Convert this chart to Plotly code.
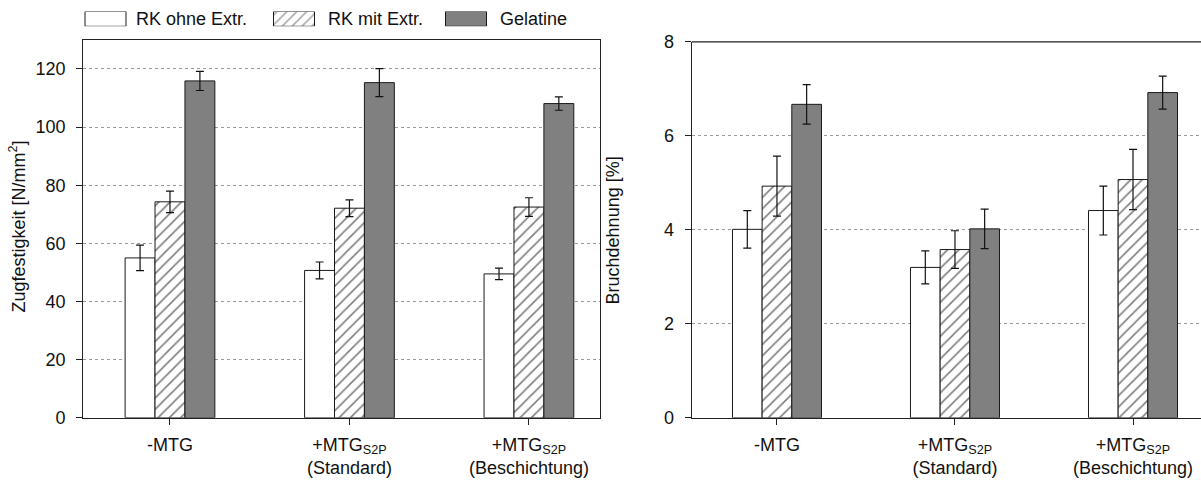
import plotly.graph_objects as go

# Probenvarianten (x-Kategorien)
groups = ["-MTG", "+MTG<sub>S2P</sub><br>(Standard)", "+MTG<sub>S2P</sub><br>(Beschichtung)"]
series_names = ["RK ohne Extr.", "RK mit Extr.", "Gelatine"]

# Zugfestigkeit [N/mm²], Mittelwert und Standardabweichung
tensile_rk_ohne = [55.0, 50.7, 49.5]
tensile_rk_ohne_err = [4.4, 2.9, 2.0]
tensile_rk_mit = [74.3, 72.1, 72.5]
tensile_rk_mit_err = [3.7, 2.9, 3.2]
tensile_gel = [115.9, 115.3, 108.1]
tensile_gel_err = [3.3, 4.8, 2.3]

# Bruchdehnung [%], Mittelwert und Standardabweichung
strain_rk_ohne = [4.01, 3.20, 4.41]
strain_rk_ohne_err = [0.40, 0.35, 0.52]
strain_rk_mit = [4.93, 3.58, 5.07]
strain_rk_mit_err = [0.64, 0.40, 0.64]
strain_gel = [6.67, 4.02, 6.92]
strain_gel_err = [0.42, 0.42, 0.35]

left_ticks = [0, 20, 40, 60, 80, 100, 120]
right_ticks = [0, 2, 4, 6, 8]

W, H = 1201, 481
FONT = dict(family="Liberation Sans, Arial, sans-serif", size=18, color="#111")


def px(x):
    return x / W


def py(y):
    return 1 - y / H


hatch = dict(shape="/", size=8, solidity=0.2, fgcolor="#000", bgcolor="white")
styles = [
    dict(color="white", pattern=None),
    dict(color="white", pattern=hatch),
    dict(color="#808080", pattern=None),
]

fig = go.Figure()

xs = [0, 1, 2]
panels = [
    ("x", "y", [tensile_rk_ohne, tensile_rk_mit, tensile_gel],
     [tensile_rk_ohne_err, tensile_rk_mit_err, tensile_gel_err]),
    ("x2", "y2", [strain_rk_ohne, strain_rk_mit, strain_gel],
     [strain_rk_ohne_err, strain_rk_mit_err, strain_gel_err]),
]
for xa, ya, vals, errs in panels:
    for i, (name, v, e) in enumerate(zip(series_names, vals, errs)):
        marker = dict(color=styles[i]["color"], line=dict(color="#1a1a1a", width=1))
        if styles[i]["pattern"] is not None:
            marker["pattern"] = styles[i]["pattern"]
        fig.add_trace(go.Bar(
            x=xs, y=v, name=name, xaxis=xa, yaxis=ya, marker=marker,
            error_y=dict(type="data", array=e, visible=True, color="#111", thickness=1.2, width=4),
            showlegend=False,
        ))

# Legend boxes drawn as bars on a hidden helper axis (pixel units)
legend_centers = [105.5, 294, 466]
legend_text_x = [134, 326, 498]
fig.add_trace(go.Bar(
    x=legend_centers, y=[1, 1, 1], width=[41, 41, 41], xaxis="x3", yaxis="y3",
    marker=dict(color=["white", "white", "#808080"], line=dict(color="#1a1a1a", width=1),
                pattern=dict(shape=["", "/", ""], size=7, solidity=0.22, fgcolor="#000", bgcolor="white")),
    showlegend=False, hoverinfo="skip",
))

axis_common = dict(showline=True, linecolor="#222", linewidth=1.3, ticks="outside", ticklen=6,
                   tickcolor="#222", tickfont=FONT, zeroline=False)
grid = dict(showgrid=True, gridcolor="#9a9a9a", griddash="3px,3px", gridwidth=1)

TOP_L, TOP_R, BOTTOM = 31.2, 33.2, 425.5

fig.update_layout(
    width=W, height=H,
    margin=dict(l=0, r=0, t=0, b=0),
    paper_bgcolor="white", plot_bgcolor="white",
    barmode="group", bargap=0.5, bargroupgap=0,
    font=FONT,
    xaxis=dict(domain=[px(83.3), px(600)], range=[-0.483, 2.396], tickvals=xs, ticktext=groups,
               mirror=True, anchor="y", showgrid=False, ticklabelstandoff=4, **axis_common),
    yaxis=dict(domain=[py(BOTTOM), py(TOP_L)], range=[0, 130], tickvals=left_ticks, mirror=True,
               anchor="x", ticklabelstandoff=7, **grid, **axis_common),
    xaxis2=dict(domain=[px(691.7), 1.0], range=[-0.479, 2.382], tickvals=xs, ticktext=groups,
                mirror=False, anchor="y2", showgrid=False, ticklabelstandoff=4, **axis_common),
    yaxis2=dict(domain=[py(BOTTOM), py(TOP_R)], range=[0, 8], tickvals=right_ticks,
                anchor="x2", ticklabelstandoff=7, **grid, **axis_common),
    xaxis3=dict(domain=[px(0), px(600)], range=[0, 600], visible=False, fixedrange=True),
    yaxis3=dict(domain=[py(17), py(1.5)], range=[0, 1], visible=False, fixedrange=True, anchor="x3"),
)

# Top border of the right panel
fig.add_shape(type="line", xref="x2 domain", yref="y2 domain", x0=0, x1=1, y0=1, y1=1,
              line=dict(color="#222", width=1.3))

for tx, label in zip(legend_text_x, series_names):
    fig.add_annotation(xref="paper", yref="paper", x=px(tx), y=py(9.5), text=label,
                       showarrow=False, xanchor="left", yanchor="middle", font=FONT)

fig.add_annotation(xref="paper", yref="paper", x=px(18), y=py(226),
                   text="Zugfestigkeit [N/mm<sup>2</sup>]", textangle=-90, showarrow=False,
                   xanchor="center", yanchor="middle", font=FONT)
fig.add_annotation(xref="paper", yref="paper", x=px(613), y=py(230),
                   text="Bruchdehnung [%]", textangle=-90, showarrow=False,
                   xanchor="center", yanchor="middle", font=FONT)

fig.write_html("out.html")
